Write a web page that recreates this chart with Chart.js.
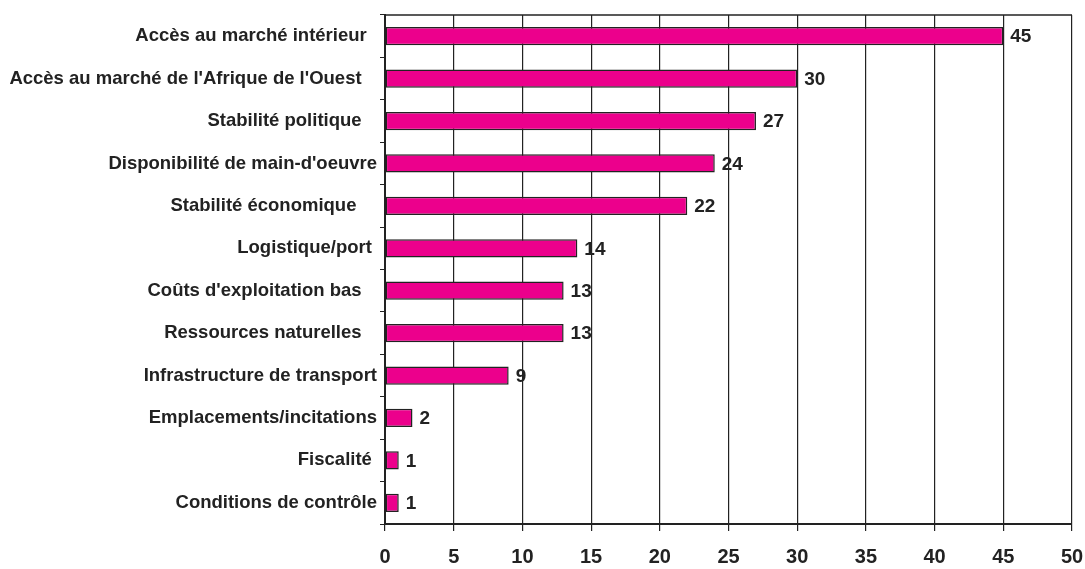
<!DOCTYPE html>
<html>
<head>
<meta charset="utf-8">
<script src="https://cdn.jsdelivr.net/npm/chart.js@4/dist/chart.umd.min.js"></script>
<style>
  html, body { margin: 0; padding: 0; background: #fff; }
  #wrap { width: 1085px; height: 569px; }
</style>
</head>
<body>
<div id="wrap"><canvas id="myChart" width="1085" height="569"></canvas></div>
<script>
const categories = [
  "Accès au marché intérieur  ",
  "Accès au marché de l'Afrique de l'Ouest   ",
  "Stabilité politique   ",
  "Disponibilité de main-d'oeuvre",
  "Stabilité économique    ",
  "Logistique/port ",
  "Coûts d'exploitation bas   ",
  "Ressources naturelles   ",
  "Infrastructure de transport",
  "Emplacements/incitations",
  "Fiscalité ",
  "Conditions de contrôle"
];
const values = [45, 30, 27, 24, 22, 14, 13, 13, 9, 2, 1, 1];
const xTicks = [0, 5, 10, 15, 20, 25, 30, 35, 40, 45, 50];

const fontFamily = '"Liberation Sans", Arial, sans-serif';

// value labels right of each bar + top frame line
const valueLabels = {
  id: 'valueLabels',
  afterDatasetsDraw(chart) {
    const c = chart.ctx;
    const meta = chart.getDatasetMeta(0);
    c.save();
    c.font = 'bold 19px ' + fontFamily;
    c.fillStyle = '#222';
    c.textBaseline = 'middle';
    c.textAlign = 'left';
    meta.data.forEach((bar, i) => {
      c.fillText(values[i], bar.x + 7, bar.y + 1);
    });
    const a = chart.chartArea;
    c.strokeStyle = '#222';
    c.lineWidth = 1.5;
    c.beginPath();
    c.moveTo(a.left, a.top);
    c.lineTo(a.right, a.top);
    c.stroke();
    c.restore();
  }
};

new Chart(document.getElementById('myChart'), {
  type: 'bar',
  data: {
    labels: categories,
    datasets: [{
      data: values,
      backgroundColor: '#EC008C',
      borderColor: '#222',
      borderWidth: 1.5,
      borderSkipped: false,
      categoryPercentage: 1,
      barPercentage: 0.43
    }]
  },
  options: {
    indexAxis: 'y',
    responsive: false,
    animation: false,
    layout: { padding: { top: 15, right: 0, left: 0, bottom: 0 } },
    plugins: { legend: { display: false }, tooltip: { enabled: false } },
    scales: {
      x: {
        min: 0,
        max: 50,
        afterBuildTicks(axis) { axis.ticks = xTicks.map(v => ({ value: v })); },
        afterFit(axis) {
          axis.height = 45;
          axis.paddingRight = 13;
          axis.paddingLeft = 0;
        },
        grid: { color: '#222', lineWidth: 1.2, tickLength: 7, drawOnChartArea: true },
        border: { color: '#222', width: 2 },
        ticks: {
          color: '#222',
          padding: 14,
          maxRotation: 0,
          font: { family: fontFamily, size: 20, weight: 'bold' }
        }
      },
      y: {
        afterFit(axis) { axis.width = 385; },
        grid: { drawOnChartArea: false, drawTicks: true, tickLength: 5, color: '#222', offset: true },
        border: { color: '#222', width: 2 },
        ticks: {
          color: '#222',
          padding: 3,
          autoSkip: false,
          font: { family: fontFamily, size: 18.5, weight: 'bold' }
        }
      }
    }
  },
  plugins: [valueLabels]
});
</script>
</body>
</html>
